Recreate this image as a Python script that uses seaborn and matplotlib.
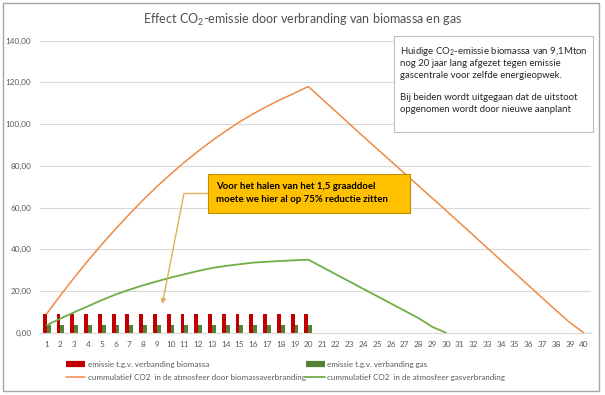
import numpy as np
import pandas as pd
import matplotlib
matplotlib.use("Agg")
import matplotlib.pyplot as plt
from matplotlib.lines import Line2D
from matplotlib.patches import Rectangle
from matplotlib.ticker import FuncFormatter
import seaborn as sns

# jaren en waarden
jaren = list(range(1, 41))
jaren_emissie = list(range(1, 21))
emissie_biomassa = [9.1] * 20
emissie_gas = [3.6] * 20

jaren_bio = list(range(1, 41))
cum_biomassa = [9.1, 17.9, 26.4, 34.5, 42.3, 49.7, 56.8, 63.6, 70.0, 76.0,
                81.7, 87.0, 92.0, 96.6, 101.0, 104.9, 108.5, 111.8, 114.8, 118.0,
                112.0, 106.0, 100.0, 94.0, 88.1, 82.2, 76.3, 70.4, 64.5, 58.6,
                52.6, 46.6, 40.6, 34.6, 28.6, 22.6, 16.6, 10.6, 4.8, 0.0]

jaren_gas = list(range(1, 31))
cum_gas = [3.6, 6.8, 9.8, 12.7, 15.6, 18.3, 20.6, 22.7, 24.6, 26.4,
           28.0, 29.6, 31.0, 32.0, 32.8, 33.6, 34.0, 34.4, 34.7, 35.0,
           31.5, 28.0, 24.5, 21.0, 17.5, 14.0, 10.5, 7.0, 2.8, 0.0]

series = ["emissie t.g.v. verbanding biomassa", "emissie t.g.v. verbanding gas",
          "cummulatief CO2  in de atmosfeer door biomassaverbranding",
          "cummulatief CO2  in de atmosfeer gasverbranding"]

rood = "#C00000"
donkergroen = "#548235"
oranje = "#EF8A45"
groen = "#70AD47"
grijs = "#595959"

sns.set_style("white")
plt.rcParams["font.family"] = ["Lato", "DejaVu Sans"]
plt.rcParams["mathtext.fontset"] = "custom"
plt.rcParams["mathtext.rm"] = "Lato"
plt.rcParams["mathtext.it"] = "Lato"
plt.rcParams["mathtext.bf"] = "Lato:bold"

fig = plt.figure(figsize=(6.05, 3.95), dpi=100)
W, H = 605, 395


def fx(px):
    return px / W


def fy(py):
    return 1 - py / H


ax = fig.add_axes([fx(39.8), fy(332.7), fx(590.6) - fx(39.8), fy(40.6) - fy(332.7)])

bars = pd.DataFrame({
    "jaar": jaren_emissie * 2,
    "waarde": emissie_biomassa + emissie_gas,
    "serie": [series[0]] * 20 + [series[1]] * 20,
})
sns.barplot(data=bars, x="jaar", y="waarde", hue="serie", native_scale=True,
            palette=[rood, donkergroen], width=0.56, saturation=1,
            errorbar=None, legend=False, ax=ax, linewidth=0)

sns.lineplot(x=jaren_bio, y=cum_biomassa, color=oranje, linewidth=1.1, ax=ax)
sns.lineplot(x=jaren_gas, y=cum_gas, color=groen, linewidth=1.3, ax=ax)

ax.set_xlim(0.5, 40.5)
ax.set_ylim(0, 140)
ax.set_xticks(jaren)
ax.set_xticklabels([str(j) for j in jaren])
ax.set_yticks(range(0, 141, 20))
ax.yaxis.set_major_formatter(FuncFormatter(lambda v, p: f"{v:.2f}".replace(".", ",")))
ax.tick_params(axis="both", length=0, labelsize=5.9, labelcolor=grijs)
ax.tick_params(axis="x", pad=6)
ax.tick_params(axis="y", pad=6)
ax.set_xlabel("")
ax.set_ylabel("")
ax.yaxis.grid(True, color="#D9D9D9", linewidth=0.8)
ax.set_axisbelow(True)
for s in ["top", "right", "left"]:
    ax.spines[s].set_visible(False)
ax.spines["bottom"].set_color("#D9D9D9")
ax.spines["bottom"].set_linewidth(0.8)

fig.text(0.5, fy(20), "Effect CO$_2$-emissie door verbranding van biomassa en gas",
         ha="center", va="center", fontsize=9.0, color="#505050")

# tekstvak rechtsboven
fig.patches.append(Rectangle((fx(394), fy(132)), fx(593) - fx(394), fy(36) - fy(132),
                             transform=fig.transFigure, facecolor="white",
                             edgecolor="#BFBFBF", linewidth=0.8, zorder=5))
box_lines = ["Huidige CO$_2$-emissie biomassa van 9,1Mton",
             "nog 20 jaar lang afgezet tegen emissie",
             "gascentrale voor zelfde energieopwek.",
             "",
             "Bij beiden wordt uitgegaan dat de uitstoot",
             "opgenomen wordt door nieuwe aanplant"]
for i, line in enumerate(box_lines):
    fig.text(fx(400.5), fy(52 + i * 11.5), line, ha="left", va="center",
             fontsize=6.9, color="#262626", zorder=6)

# gele annotatie met verbindingslijn
goud = "#D9B35A"
fig.lines.append(Line2D([fx(208), fx(184)], [fy(193.5), fy(193.5)],
                        transform=fig.transFigure, color=goud, linewidth=1))
ax.annotate("", xy=(fx(162.3), fy(304)), xycoords="figure fraction",
            xytext=(fx(184), fy(193.5)), textcoords="figure fraction",
            arrowprops=dict(arrowstyle="-|>", color=goud, lw=1, mutation_scale=7,
                            shrinkA=0, shrinkB=0))
fig.patches.append(Rectangle((fx(208.5), fy(212.5)), fx(410) - fx(208.5), fy(174) - fy(212.5),
                             transform=fig.transFigure, facecolor="#FFC000",
                             edgecolor="#C09000", linewidth=0.8, zorder=5))
fig.text(fx(216.5), fy(186.5), "Voor het halen van het 1,5 graaddoel", ha="left",
         va="center", fontsize=6.9, fontweight="bold", color="black", zorder=6)
fig.text(fx(216.5), fy(199.5), "moete we hier al op 75% reductie zitten", ha="left",
         va="center", fontsize=6.9, fontweight="bold", color="black", zorder=6)

# legenda
handles = [Line2D([], [], color=rood, linewidth=4.5, solid_capstyle="butt"),
           Line2D([], [], color=oranje, linewidth=1.1),
           Line2D([], [], color=donkergroen, linewidth=4.5, solid_capstyle="butt"),
           Line2D([], [], color=groen, linewidth=1.3)]
labels = [series[0], series[2], series[1], series[3]]
fig.legend(handles, labels, ncol=2, loc="center left",
           bbox_to_anchor=(fx(66), fy(371)), frameon=False, fontsize=5.8,
           labelcolor=grijs, handlelength=2.4, handletextpad=0.3,
           columnspacing=0.0, borderpad=0, borderaxespad=0, labelspacing=0.75)

# rand om de grafiek
fig.patches.append(Rectangle((fx(2.7), fy(391)), fx(599.3) - fx(2.7), fy(2.7) - fy(391),
                             transform=fig.transFigure, fill=False,
                             edgecolor="#A6A6A6", linewidth=1))

fig.savefig("out.png", dpi=100)
